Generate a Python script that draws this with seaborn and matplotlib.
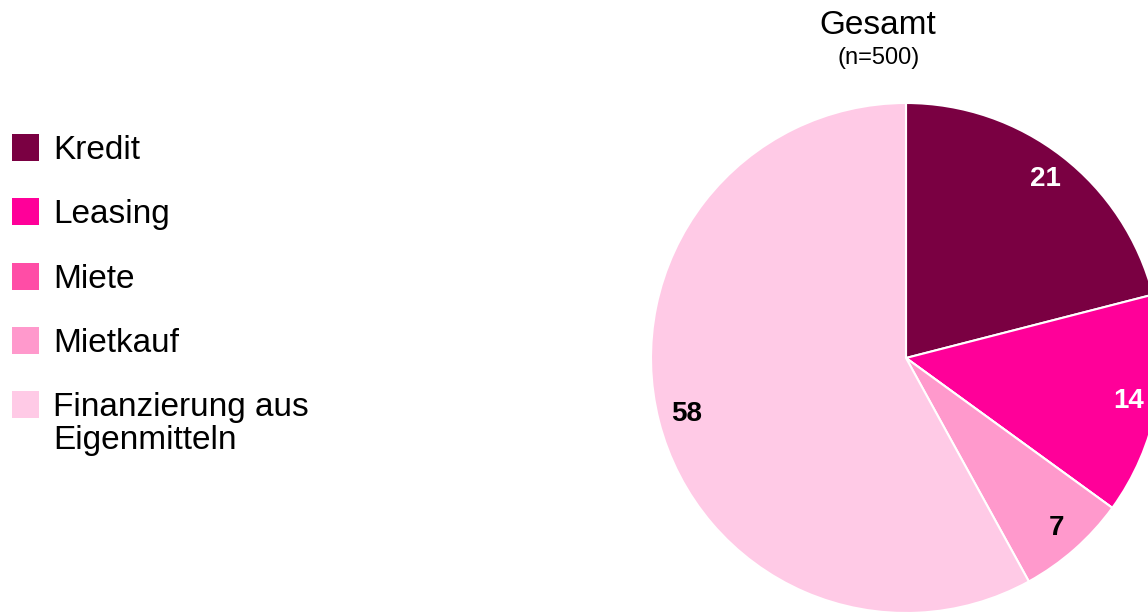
import matplotlib
matplotlib.use('Agg')
import matplotlib.pyplot as plt
from matplotlib.patches import Rectangle
import seaborn as sns

categories = ['Kredit', 'Leasing', 'Miete', 'Mietkauf', 'Finanzierung aus\nEigenmitteln']
values = [21, 14, 0, 7, 58]
colors = ['#7a0042', '#ff0099', '#ff4da6', '#ff99cc', '#ffcae6']
label_colors = ['white', 'white', 'white', 'black', 'black']
title = 'Gesamt'
subtitle = '(n=500)'

sns.set_theme(style='white')
plt.rcParams['font.family'] = ['Liberation Sans', 'DejaVu Sans']
plt.rcParams['text.color'] = 'black'

W, H = 1148, 614
fig = plt.figure(figsize=(W / 100, H / 100), dpi=100)
ax = fig.add_axes([0, 0, 1, 1])

wedges, texts, autotexts = ax.pie(
    values, colors=colors, startangle=90, counterclock=False,
    center=(906, H - 358), radius=255,
    autopct=lambda p: f'{p:.0f}' if p > 0.5 else '',
    pctdistance=0.89,
    wedgeprops=dict(edgecolor='white', linewidth=1.5),
    textprops=dict(fontsize=20, fontweight='bold'))
for t, c in zip(autotexts, label_colors):
    t.set_color(c)

ax.set_xlim(0, W)
ax.set_ylim(0, H)
ax.set_aspect('auto')
ax.axis('off')

fig.text(878 / W, 1 - 25 / H, title, fontsize=24, ha='center', va='center', color='black')
fig.text(879 / W, 1 - 58 / H, subtitle, fontsize=17, ha='center', va='center', color='black')

# legend drawn by hand so the two-line entry keeps its box on the first line
row_y = [148, 212, 277, 341, 405]
for cat, col, y in zip(categories, colors, row_y):
    fig.patches.append(Rectangle((12 / W, 1 - (y + 13) / H), 27 / W, 27 / H,
                                 transform=fig.transFigure, facecolor=col,
                                 edgecolor='none'))
    fig.text(53 / W, 1 - (y - 13) / H, cat, fontsize=24, ha='left', va='top',
             linespacing=1.08, color='black')

fig.savefig('out.png', dpi=100, facecolor='white')
